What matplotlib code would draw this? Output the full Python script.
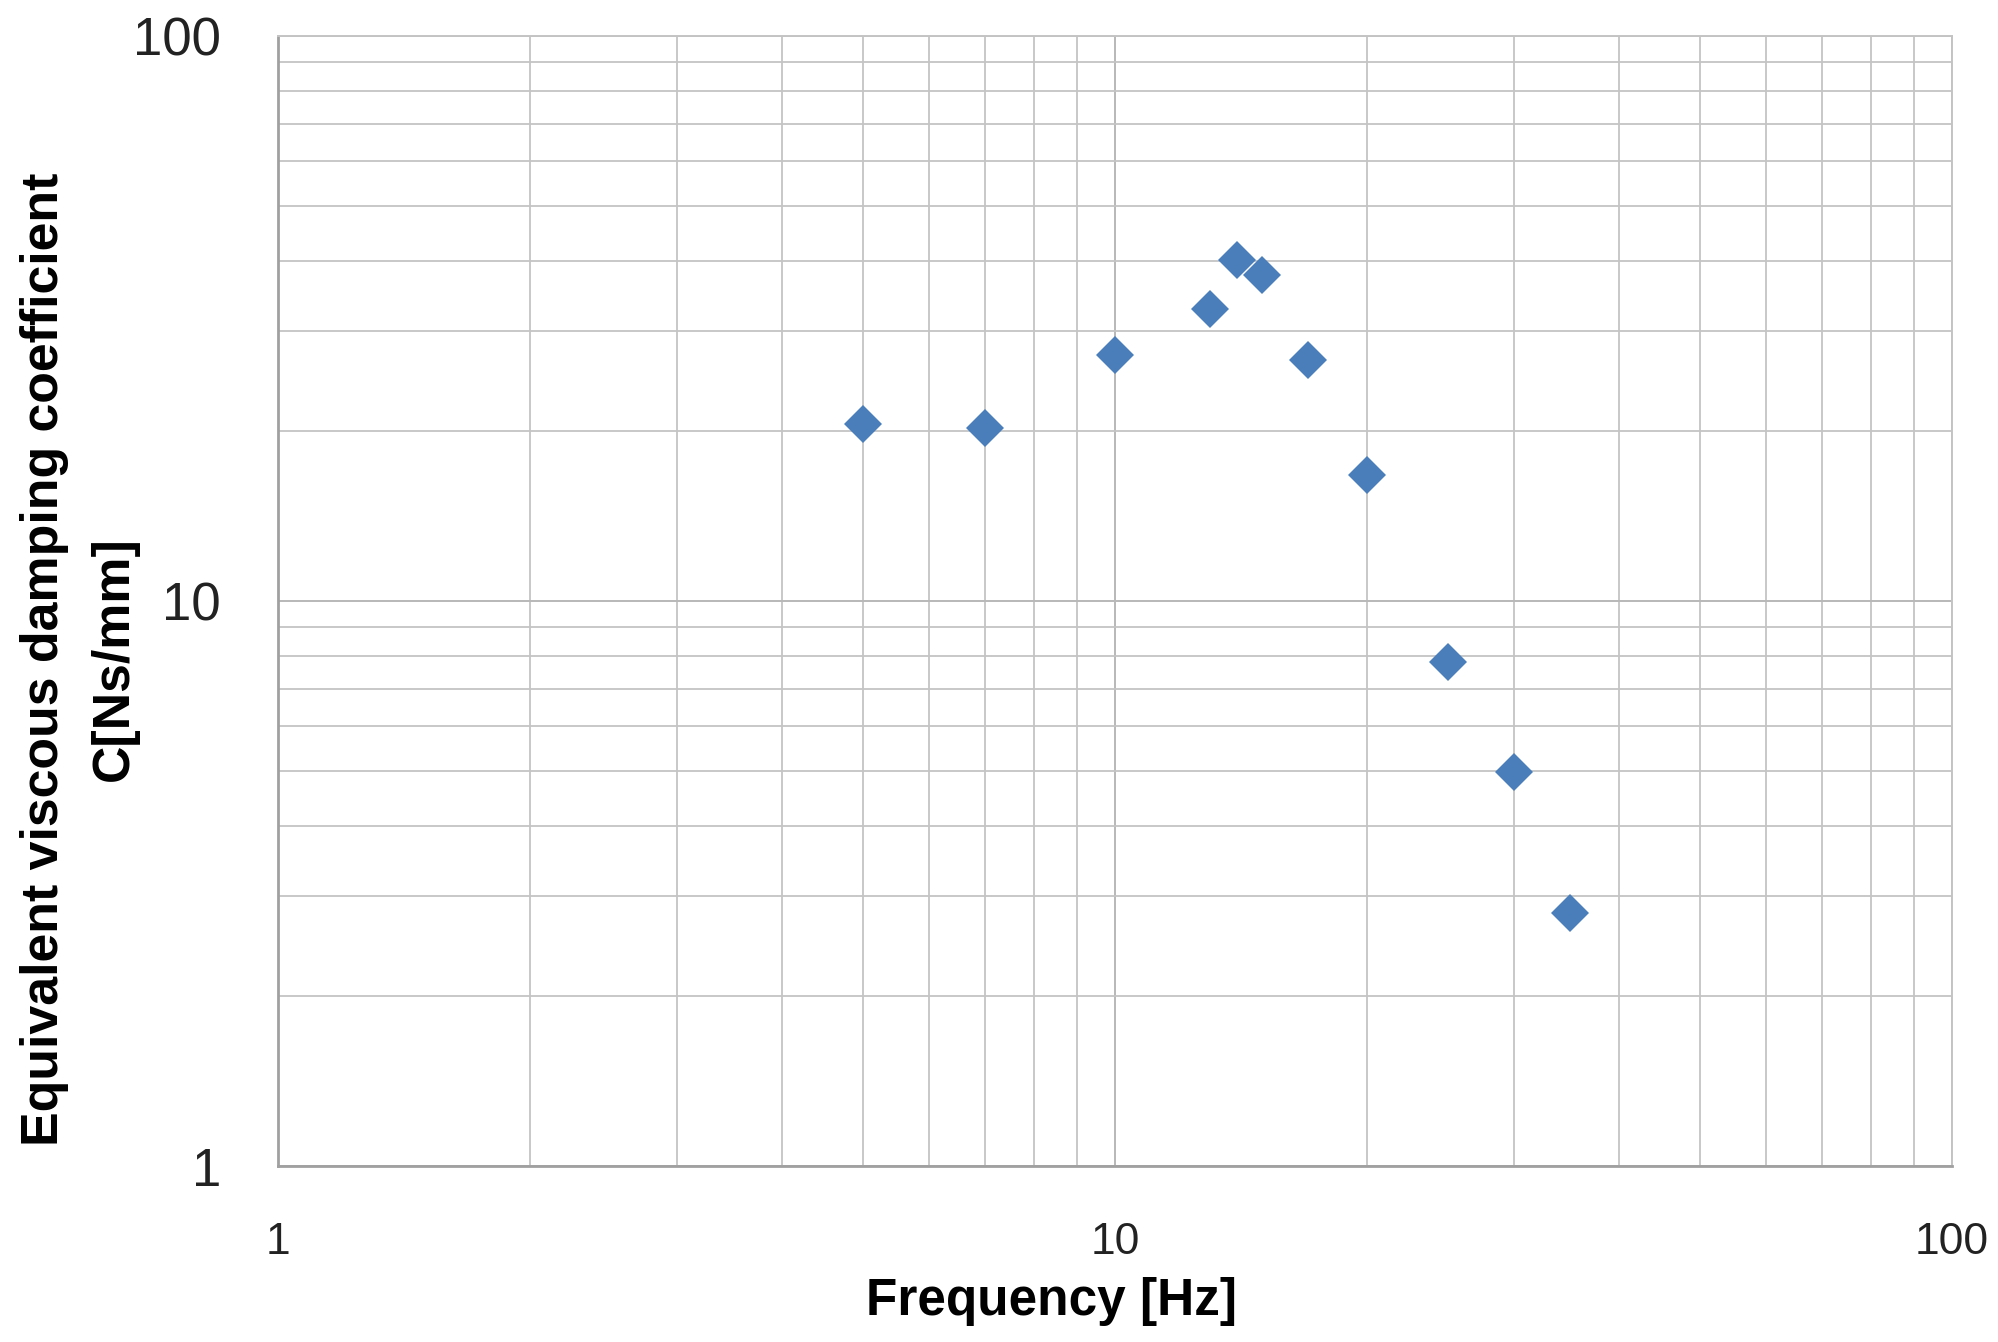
import numpy as np
import matplotlib
matplotlib.use('Agg')
import matplotlib.pyplot as plt
from matplotlib.ticker import LogLocator, NullFormatter, FixedLocator, FixedFormatter

plt.rcParams['font.family'] = ['Liberation Sans', 'DejaVu Sans']

# 周波数 [Hz] と等価粘性減衰係数 [Ns/mm]
freq = [5, 7, 10, 13, 14, 15, 17, 20, 25, 30, 35]
damping = [20.6, 20.2, 27.2, 32.9, 40.1, 37.8, 26.7, 16.7, 7.8, 4.98, 2.80]

x_ticks = [1, 10, 100]
x_labels = ['1', '10', '100']
y_ticks = [1, 10, 100]
y_labels = ['1', '10', '100']

W, H = 1998, 1342
fig = plt.figure(figsize=(W / 100, H / 100), dpi=100)
ax = fig.add_axes([278 / W, 1 - 1166 / H, (1952 - 278) / W, (1166 - 36) / H])

ax.set_xscale('log')
ax.set_yscale('log')
ax.set_xlim(1, 100)
ax.set_ylim(1, 100)

ax.plot(freq, damping, linestyle='none', marker='D', markersize=19,
        markerfacecolor='#4A7EBB', markeredgewidth=0, zorder=3)

# グリッド
grid_col = '#c4c4c4'
ax.xaxis.set_major_locator(FixedLocator(x_ticks))
ax.xaxis.set_major_formatter(FixedFormatter(x_labels))
ax.yaxis.set_major_locator(FixedLocator(y_ticks))
ax.yaxis.set_major_formatter(FixedFormatter(y_labels))
ax.xaxis.set_minor_locator(LogLocator(base=10, subs=np.arange(2, 10)))
ax.yaxis.set_minor_locator(LogLocator(base=10, subs=np.arange(2, 10)))
ax.xaxis.set_minor_formatter(NullFormatter())
ax.yaxis.set_minor_formatter(NullFormatter())
ax.grid(True, which='major', color='#b8b8b8', linewidth=1.4)
ax.grid(True, which='minor', color=grid_col, linewidth=1.3)
ax.set_axisbelow(True)

ax.tick_params(which='both', length=0)
ax.tick_params(axis='x', labelsize=32, pad=40, labelcolor='#222222')
ax.tick_params(axis='y', labelsize=38, pad=41, labelcolor='#222222')

for side in ['left', 'bottom']:
    ax.spines[side].set_color('#a0a0a0')
    ax.spines[side].set_linewidth(2.0)
for side in ['top', 'right']:
    ax.spines[side].set_color('#c4c4c4')
    ax.spines[side].set_linewidth(1.4)

ax.set_xlabel('Frequency [Hz]', fontsize=37, fontweight='bold')
ax.xaxis.set_label_coords((1051 - 278) / (1952 - 278), -(1326 - 1166) / (1166 - 36))
ax.xaxis.label.set_va('bottom')

fig.text(79 / W, 1 - 659 / H, 'Equivalent viscous damping coefficient\nC[Ns/mm]',
         rotation=90, ha='center', va='center', multialignment='center',
         fontsize=37.4, fontweight='bold', linespacing=1.55)

fig.savefig('out.png', dpi=100)
